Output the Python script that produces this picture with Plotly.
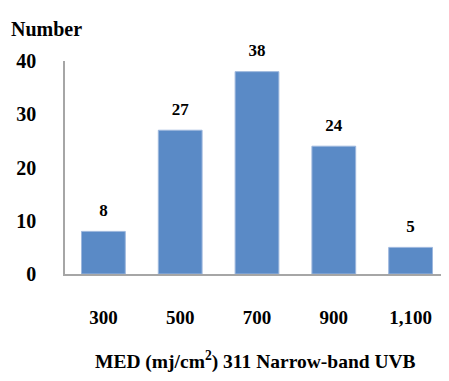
import plotly.graph_objects as go

categories = ["300", "500", "700", "900", "1,100"]
counts = [8, 27, 38, 24, 5]
y_ticks = [0, 10, 20, 30, 40]

font_family = "Liberation Serif, Times New Roman, serif"

fig = go.Figure()
fig.add_trace(go.Bar(
    x=categories,
    y=counts,
    marker=dict(color="#5A8AC6", line=dict(color="#9DB7DD", width=1)),
    hoverinfo="skip",
))
fig.add_trace(go.Scatter(
    x=categories,
    y=counts,
    mode="markers+text",
    marker=dict(size=16, opacity=0),
    text=["<b>%d</b>" % v for v in counts],
    textposition="top center",
    textfont=dict(family=font_family, size=17, color="#000"),
    hoverinfo="skip",
    cliponaxis=False,
))

fig.add_annotation(xref="paper", yref="paper", x=-0.146, y=1.0, yshift=32,
                   xanchor="left", yanchor="middle", showarrow=False,
                   text="<b>Number</b>",
                   font=dict(family=font_family, size=20, color="#000"))

fig.add_annotation(xref="paper", yref="paper", x=0.497, y=0, yshift=-86,
                   xanchor="center", yanchor="middle", showarrow=False,
                   text="<b>MED (mj/cm<sup>2</sup>) 311 Narrow-band UVB</b>",
                   font=dict(family=font_family, size=19.5, color="#000"))

fig.update_layout(
    width=441, height=373,
    margin=dict(l=57, r=0, t=53, b=107, autoexpand=False),
    paper_bgcolor="white", plot_bgcolor="white",
    showlegend=False,
    bargap=0.43,
    font=dict(family=font_family, size=17, color="#000"),
)
fig.update_xaxes(
    type="category",
    showline=True, linecolor="#A6A6A6", linewidth=1.5,
    showgrid=False, ticks="", ticklabelstandoff=25,
    tickfont=dict(family=font_family, size=19, color="#000", weight="bold"),
)
fig.update_yaxes(
    range=[0, 40], tickvals=y_ticks,
    showline=True, linecolor="#A6A6A6", linewidth=1.5,
    showgrid=False, zeroline=False, ticks="", ticklabelstandoff=23,
    tickfont=dict(family=font_family, size=20, color="#000", weight="bold"),
)

fig.write_html("out.html")
